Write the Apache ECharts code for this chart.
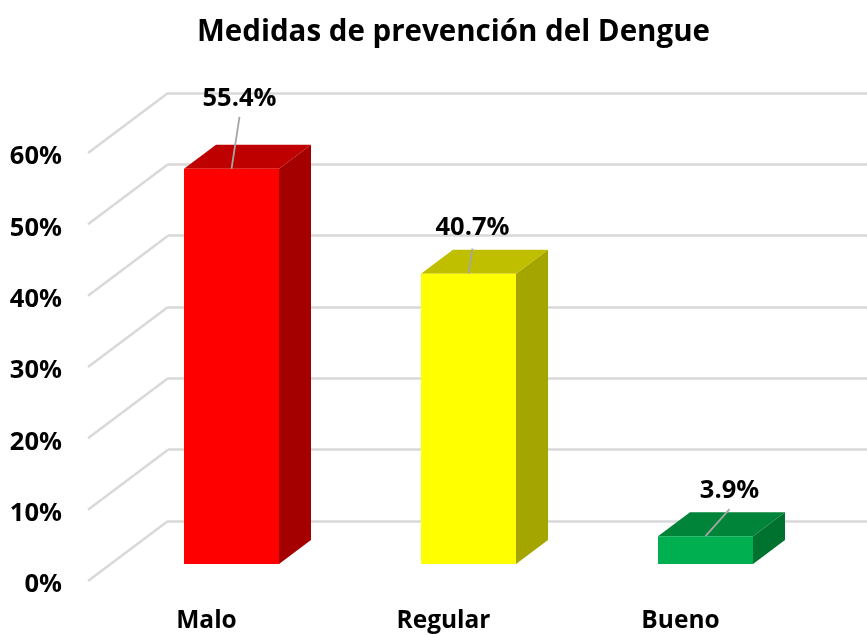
<!DOCTYPE html>
<html>
<head>
<meta charset="utf-8">
<title>Medidas de prevención del Dengue</title>
<script src="https://cdn.jsdelivr.net/npm/echarts@6/dist/echarts.min.js"></script>
<style>
  html, body { margin: 0; padding: 0; background: #fff; }
  #chart { width: 867px; height: 635px; }
</style>
</head>
<body>
<div id="chart"></div>
<script>
const categories = ['Malo', 'Regular', 'Bueno']
const values = [55.4, 40.7, 3.9]
const ticks = [0, 10, 20, 30, 40, 50, 60]

const faceColors = ['#ff0000', '#ffff00', '#00b050']
const topColors = ['#bf0000', '#bfbf00', '#008439']
const sideColors = ['#a50000', '#a5a500', '#00722f']

const FONT = '"Open Sans", "Noto Sans", sans-serif'
const wallDepth = [80, -60]
const barShift = [25, -17]
const barDepth = [32, -24]
const barWidth = 95
// data labels were dragged by hand in the original, each with its own leader line
const leaders = [
  { to: [8, -52], text: [8, -70] },
  { to: [4, -25], text: [4, -46] },
  { to: [24, -27], text: [24, -45] },
]

const chart = echarts.init(document.getElementById('chart'))

const renderDiagonal = (params, api) => {
  const p = api.coord([0, api.value(0)])
  const x0 = p[0] - api.size([1, 0])[0] / 2
  return {
    type: 'line',
    shape: { x1: x0, y1: p[1], x2: x0 + wallDepth[0], y2: p[1] + wallDepth[1] },
    style: { stroke: '#d9d9d9', lineWidth: 2.5 },
  }
}

const renderBar = (params, api) => {
  const i = params.dataIndex
  const c = api.coord([i, api.value(1)])
  const b = api.coord([i, 0])
  const x = c[0] - barWidth / 2 + barShift[0]
  const xr = x + barWidth
  const top = c[1] + barShift[1]
  const bot = b[1] + barShift[1]
  const dx = barDepth[0]
  const dy = barDepth[1]
  const l = leaders[i]
  const mid = c[0] + barShift[0]
  return {
    type: 'group',
    children: [
      { type: 'polygon', shape: { points: [[xr, top], [xr + dx, top + dy], [xr + dx, bot + dy], [xr, bot]] }, style: { fill: sideColors[i] } },
      { type: 'polygon', shape: { points: [[x, top], [x + dx, top + dy], [xr + dx, top + dy], [xr, top]] }, style: { fill: topColors[i] } },
      { type: 'rect', shape: { x: x, y: top, width: barWidth, height: bot - top }, style: { fill: faceColors[i] } },
      { type: 'line', shape: { x1: mid, y1: top, x2: mid + l.to[0], y2: top + l.to[1] }, style: { stroke: '#a6a6a6', lineWidth: 1.8 } },
      {
        type: 'text',
        style: {
          x: mid + l.text[0],
          y: top + l.text[1],
          text: api.value(1).toFixed(1) + '%',
          fill: '#000',
          font: 'bold 25.5px ' + FONT,
          align: 'center',
          verticalAlign: 'middle',
        },
      },
    ],
  }
}

chart.setOption({
  animation: false,
  backgroundColor: '#fff',
  title: {
    text: 'Medidas de prevención del Dengue',
    left: 192,
    top: 13,
    textStyle: { fontSize: 29.5, fontWeight: 'bold', color: '#000', fontFamily: FONT },
  },
  grid: [
    { left: 88, top: 153, width: 711, height: 428 },
    { left: 168, top: 93, right: 0, height: 428 },
    // only carries the tick labels, they sit a little under the floor corners
    { left: 88, top: 157, width: 711, height: 428 },
  ],
  xAxis: [
    {
      type: 'category',
      data: categories,
      gridIndex: 0,
      axisLine: { show: false },
      axisTick: { show: false },
      axisLabel: { fontSize: 24.5, fontWeight: 'bold', color: '#000', fontFamily: FONT, margin: 28 },
    },
    { type: 'category', gridIndex: 1, show: false, data: categories },
    { type: 'category', gridIndex: 2, show: false, data: categories },
  ],
  yAxis: [
    { type: 'value', gridIndex: 0, min: 0, max: 60, interval: 10, show: false },
    {
      type: 'value',
      gridIndex: 1,
      min: 0,
      max: 60,
      interval: 10,
      axisLine: { show: false },
      axisTick: { show: false },
      axisLabel: { show: false },
      splitLine: { lineStyle: { color: '#d9d9d9', width: 2.5 } },
    },
    {
      type: 'value',
      gridIndex: 2,
      min: 0,
      max: 60,
      interval: 10,
      axisLine: { show: false },
      axisTick: { show: false },
      splitLine: { show: false },
      axisLabel: {
        fontSize: 25.5,
        fontWeight: 'bold',
        color: '#000',
        fontFamily: FONT,
        margin: 26,
        formatter: '{value}%',
      },
    },
  ],
  series: [
    { type: 'custom', xAxisIndex: 0, yAxisIndex: 0, data: ticks.map((t) => [t]), renderItem: renderDiagonal, encode: { y: 0 }, silent: true },
    { type: 'custom', xAxisIndex: 0, yAxisIndex: 0, data: values.map((v, i) => [i, v]), renderItem: renderBar, encode: { x: 0, y: 1 }, silent: true, z: 5 },
  ],
})
</script>
</body>
</html>
